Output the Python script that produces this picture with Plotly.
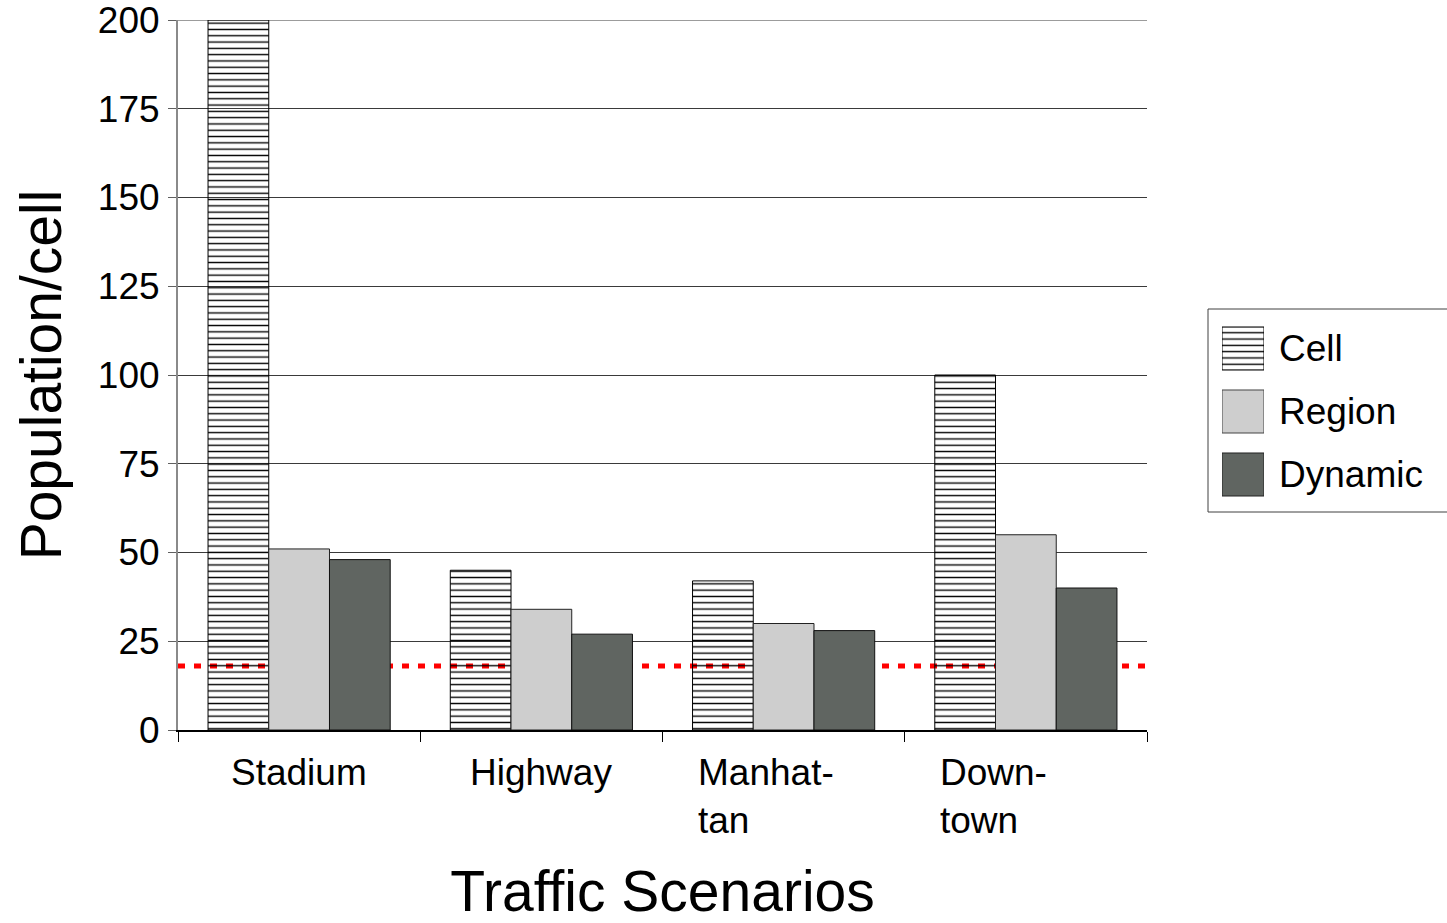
import plotly.graph_objects as go

# Scenario categories and per-scheme population values
scenarios = ["Stadium", "Highway", "Manhat-<br>tan", "Down-<br>town"]
cell_values = [200, 45, 42, 100]
region_values = [51, 34, 30, 55]
dynamic_values = [48, 27, 28, 40]
threshold = 18

series_names = ["Cell", "Region", "Dynamic"]
y_ticks = [0, 25, 50, 75, 100, 125, 150, 175, 200]

FONT = "Liberation Sans, Arial, sans-serif"
REGION_COLOR = "#cecece"
DYNAMIC_COLOR = "#606561"
GRID_COLOR = "#3a3a3a"

# plot area occupies the left part of the paper; legend lives to its right
PLOT_RIGHT = 969 / 1269

fig = go.Figure()

fig.add_trace(go.Bar(
    x=scenarios, y=cell_values, name=series_names[0],
    marker=dict(color="black", line=dict(color="black", width=1),
                pattern=dict(shape="-", size=6.3, solidity=0.22, fillmode="replace")),
    showlegend=False,
))
fig.add_trace(go.Bar(
    x=scenarios, y=region_values, name=series_names[1],
    marker=dict(color=REGION_COLOR, line=dict(color="#222222", width=1)),
    showlegend=False,
))
fig.add_trace(go.Bar(
    x=scenarios, y=dynamic_values, name=series_names[2],
    marker=dict(color=DYNAMIC_COLOR, line=dict(color="#111111", width=1)),
    showlegend=False,
))

# legend swatches drawn as a small bar chart on their own axes
fig.add_trace(go.Bar(
    x=[1, 1, 1], y=series_names, orientation="h",
    xaxis="x2", yaxis="y2", width=0.683,
    marker=dict(color=["black", REGION_COLOR, DYNAMIC_COLOR],
                line=dict(color=["black", "#444444", "#222222"], width=1),
                pattern=dict(shape=["-", "", ""], size=6.3, solidity=0.22, fillmode="replace")),
    showlegend=False, hoverinfo="skip",
))

# gridline at the top of the value range (plotly skips the one on the plot edge)
fig.add_shape(type="line", xref="x domain", yref="y", x0=0, x1=1,
              y0=y_ticks[-1], y1=y_ticks[-1], layer="below",
              line=dict(color=GRID_COLOR, width=1))

# dotted threshold line across the plot, beneath the bars
fig.add_shape(type="line", xref="x domain", yref="y", x0=0, x1=1,
              y0=threshold, y1=threshold, layer="below",
              line=dict(color="#ff0000", width=5, dash="7px,9px"))

# legend frame
fig.add_shape(type="rect", xref="paper", yref="paper",
              x0=(1208 - 178) / 1269, x1=1.01, y0=(730 - 512) / 710, y1=(730 - 309) / 710,
              line=dict(color="#404040", width=1), fillcolor="rgba(0,0,0,0)")

# category labels: single-line centred, wrapped ones left-aligned in a fixed box
for s in scenarios:
    multi = "<br>" in s
    fig.add_annotation(
        x=s, xref="x", y=-0.028, yref="paper", yanchor="top",
        xanchor="center", text=s, showarrow=False,
        width=172 if multi else None, align="left" if multi else "center",
        font=dict(family=FONT, size=37, color="black"),
    )

fig.update_layout(
    width=1447, height=923,
    margin=dict(l=178, r=0, t=20, b=193),
    paper_bgcolor="white", plot_bgcolor="white",
    barmode="group", bargap=0.248, bargroupgap=0,
    font=dict(family=FONT, size=37, color="black"),
    xaxis=dict(
        domain=[0, PLOT_RIGHT], type="category",
        showticklabels=False, tickson="boundaries",
        ticks="outside", ticklen=10, tickcolor="black", tickwidth=1,
        showline=True, linecolor="black", linewidth=1.5,
        showgrid=False, zeroline=False, automargin=False,
        title=dict(text="Traffic Scenarios", font=dict(family=FONT, size=57), standoff=146),
    ),
    yaxis=dict(
        range=[y_ticks[0], y_ticks[-1]], tickvals=y_ticks,
        ticks="outside", ticklen=8,
        tickcolor="#606060", tickwidth=1,
        showline=True, linecolor="#8a8a8a", linewidth=2,
        showgrid=True, gridcolor=GRID_COLOR, gridwidth=1, zeroline=False,
        tickfont=dict(family=FONT, size=37), ticklabelstandoff=1,
        ticklabeloverflow="allow",
        automargin=False,
        title=dict(text="Population/cell", font=dict(family=FONT, size=57), standoff=18),
    ),
    xaxis2=dict(domain=[(1222 - 178) / 1269, (1264 - 178) / 1269], anchor="y2",
                range=[0, 1], visible=False),
    yaxis2=dict(domain=[(730 - 506) / 710, (730 - 317) / 710], anchor="x2",
                type="category", categoryorder="array",
                categoryarray=series_names[::-1], side="right",
                showgrid=False, showline=False, zeroline=False, ticks="",
                tickfont=dict(family=FONT, size=37), ticklabelstandoff=14,
                automargin=False),
)

fig.write_html("out.html")
